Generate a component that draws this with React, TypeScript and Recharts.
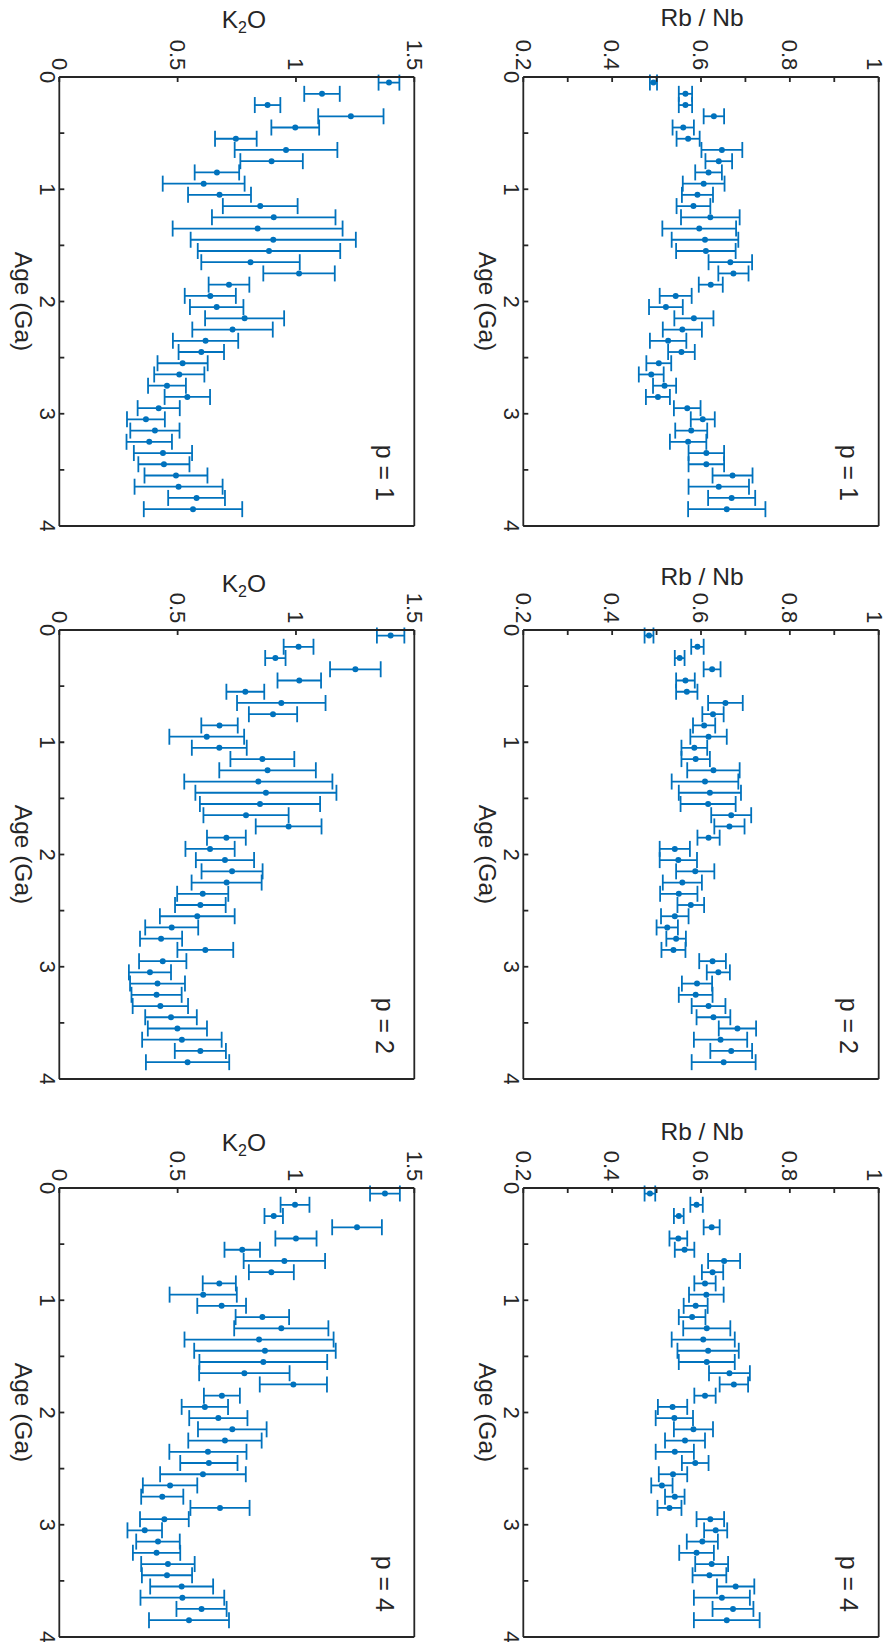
import React from 'react';
import { ScatterChart, Scatter, XAxis, YAxis, ErrorBar } from 'recharts';

// ---- data (age bins in Ga) ----
const ages = [0.05, 0.15, 0.25, 0.35, 0.45, 0.55, 0.65, 0.75, 0.85, 0.95, 1.05, 1.15, 1.25, 1.35, 1.45, 1.55, 1.65, 1.75, 1.85, 1.95, 2.05, 2.15, 2.25, 2.35, 2.45, 2.55, 2.65, 2.75, 2.85, 2.95, 3.05, 3.15, 3.25, 3.35, 3.45, 3.55, 3.65, 3.75, 3.85];

const rbnbP1 = [0.493, 0.565, 0.565, 0.629, 0.560, 0.571, 0.647, 0.640, 0.617, 0.606, 0.592, 0.583, 0.621, 0.596, 0.609, 0.611, 0.666, 0.673, 0.622, 0.543, 0.521, 0.584, 0.558, 0.526, 0.556, 0.505, 0.488, 0.518, 0.503, 0.569, 0.604, 0.578, 0.571, 0.612, 0.612, 0.671, 0.640, 0.669, 0.658];
const rbnbP1Err = [0.008, 0.015, 0.015, 0.023, 0.024, 0.026, 0.046, 0.030, 0.030, 0.047, 0.035, 0.038, 0.066, 0.083, 0.075, 0.067, 0.049, 0.034, 0.027, 0.036, 0.038, 0.044, 0.044, 0.041, 0.030, 0.028, 0.028, 0.026, 0.027, 0.030, 0.027, 0.036, 0.041, 0.040, 0.040, 0.045, 0.068, 0.053, 0.087];

const k2oP1 = [1.393, 1.110, 0.880, 1.232, 0.997, 0.746, 0.958, 0.897, 0.666, 0.610, 0.677, 0.849, 0.906, 0.838, 0.904, 0.886, 0.808, 1.013, 0.717, 0.638, 0.665, 0.783, 0.732, 0.618, 0.600, 0.521, 0.507, 0.455, 0.541, 0.420, 0.366, 0.404, 0.380, 0.438, 0.442, 0.493, 0.504, 0.580, 0.565];
const k2oP1Err = [0.044, 0.075, 0.054, 0.138, 0.101, 0.088, 0.217, 0.132, 0.094, 0.173, 0.133, 0.158, 0.261, 0.359, 0.349, 0.301, 0.208, 0.151, 0.086, 0.108, 0.113, 0.167, 0.170, 0.138, 0.096, 0.106, 0.106, 0.080, 0.096, 0.089, 0.080, 0.104, 0.096, 0.123, 0.108, 0.133, 0.186, 0.120, 0.208];

const rbnbP2 = [0.483, 0.592, 0.552, 0.625, 0.565, 0.568, 0.655, 0.627, 0.607, 0.617, 0.585, 0.588, 0.628, 0.609, 0.620, 0.616, 0.668, 0.664, 0.617, 0.541, 0.549, 0.587, 0.558, 0.550, 0.577, 0.541, 0.524, 0.544, 0.538, 0.626, 0.639, 0.591, 0.588, 0.617, 0.628, 0.682, 0.644, 0.668, 0.651];
const rbnbP2Err = [0.010, 0.014, 0.011, 0.019, 0.021, 0.024, 0.039, 0.024, 0.025, 0.041, 0.029, 0.032, 0.059, 0.075, 0.070, 0.062, 0.045, 0.034, 0.025, 0.034, 0.042, 0.043, 0.044, 0.042, 0.030, 0.031, 0.024, 0.022, 0.027, 0.030, 0.026, 0.034, 0.038, 0.038, 0.038, 0.042, 0.060, 0.047, 0.072];

const k2oP2 = [1.400, 1.011, 0.913, 1.251, 1.014, 0.786, 0.938, 0.903, 0.677, 0.623, 0.676, 0.858, 0.880, 0.841, 0.873, 0.848, 0.789, 0.969, 0.706, 0.637, 0.700, 0.730, 0.707, 0.606, 0.596, 0.583, 0.475, 0.430, 0.617, 0.437, 0.383, 0.415, 0.411, 0.427, 0.472, 0.499, 0.518, 0.596, 0.542];
const k2oP2Err = [0.058, 0.063, 0.043, 0.107, 0.092, 0.080, 0.187, 0.102, 0.077, 0.158, 0.116, 0.135, 0.204, 0.313, 0.298, 0.254, 0.180, 0.139, 0.082, 0.104, 0.123, 0.129, 0.148, 0.108, 0.107, 0.158, 0.112, 0.089, 0.118, 0.100, 0.089, 0.116, 0.106, 0.117, 0.109, 0.125, 0.168, 0.108, 0.176];

const rbnbP4 = [0.485, 0.590, 0.550, 0.624, 0.549, 0.563, 0.652, 0.626, 0.609, 0.612, 0.588, 0.580, 0.613, 0.605, 0.616, 0.613, 0.664, 0.674, 0.609, 0.536, 0.540, 0.583, 0.564, 0.541, 0.587, 0.537, 0.512, 0.541, 0.529, 0.621, 0.633, 0.603, 0.590, 0.624, 0.619, 0.678, 0.647, 0.672, 0.658];
const rbnbP4Err = [0.012, 0.014, 0.011, 0.018, 0.020, 0.022, 0.036, 0.024, 0.024, 0.039, 0.027, 0.030, 0.053, 0.071, 0.069, 0.063, 0.046, 0.032, 0.024, 0.033, 0.042, 0.044, 0.045, 0.043, 0.030, 0.032, 0.024, 0.022, 0.027, 0.031, 0.026, 0.035, 0.039, 0.037, 0.038, 0.042, 0.063, 0.046, 0.074];

const k2oP4 = [1.376, 0.996, 0.906, 1.258, 1.000, 0.773, 0.951, 0.896, 0.676, 0.608, 0.686, 0.858, 0.938, 0.844, 0.869, 0.862, 0.782, 0.989, 0.687, 0.615, 0.672, 0.731, 0.700, 0.628, 0.632, 0.607, 0.468, 0.435, 0.679, 0.444, 0.361, 0.417, 0.411, 0.459, 0.455, 0.517, 0.520, 0.601, 0.548];
const k2oP4Err = [0.063, 0.061, 0.039, 0.105, 0.087, 0.075, 0.172, 0.095, 0.070, 0.142, 0.103, 0.113, 0.199, 0.315, 0.299, 0.270, 0.191, 0.142, 0.076, 0.098, 0.123, 0.145, 0.155, 0.163, 0.121, 0.181, 0.115, 0.089, 0.125, 0.103, 0.073, 0.092, 0.100, 0.113, 0.106, 0.133, 0.177, 0.106, 0.169];

const pValues = [1, 2, 4];
const ageTicks = [0, 0.5, 1, 1.5, 2, 2.5, 3, 3.5, 4];
const rbnbTicks = [0.2, 0.3, 0.4, 0.5, 0.6, 0.7, 0.8, 0.9, 1];
const k2oTicks = [0, 0.5, 1, 1.5];

// ---- styling / layout ----
const BLUE = '#0072BD';
const INK = '#262626';
const FONT = '"Liberation Sans", Arial, Helvetica, sans-serif';
const TICK_FS = 22;
const LABEL_FS = 24.5;
const AXW = 1.8;

const CHART_W = 531;
const CHART_H = 443;
const PLOT_LEFT = 77;
const PLOT_W = 449;
const colPlotLeft = [76.7, 630, 1187.7];
const rbnbTitleOffset = [51, 45, 48];
const k2oTitleOffset = [49, 38, 37];

const build = (vals: number[], errs: number[]) =>
  ages.map((a, i) => ({ age: a, v: vals[i], err: errs[i] }));

const rbnbSets = [build(rbnbP1, rbnbP1Err), build(rbnbP2, rbnbP2Err), build(rbnbP4, rbnbP4Err)];
const k2oSets = [build(k2oP1, k2oP1Err), build(k2oP2, k2oP2Err), build(k2oP4, k2oP4Err)];

const ageFmt = (v: number) => (Number.isInteger(v) ? String(v) : '');
const rbnbFmt = (v: number) => (Math.round(v * 10) % 2 === 0 ? String(Math.round(v * 10) / 10) : '');
const k2oFmt = (v: number) => String(v);

const Dot = (props: any) => {
  if (props.cx == null || props.cy == null) return null;
  return <circle cx={props.cx} cy={props.cy} r={3} fill={BLUE} stroke="none" />;
};

const makeYTick = (fmt: (v: number) => string, topValue: number) => (props: any) => {
  const { x, y, payload } = props;
  const label = fmt(payload.value);
  if (!label) return <g />;
  const shift = payload.value === topValue ? 4 : 0;
  return (
    <text
      x={x}
      y={y + shift}
      dy="0.355em"
      textAnchor="end"
      fontSize={TICK_FS}
      fill={INK}
      fontFamily={FONT}
    >
      {label}
    </text>
  );
};

type PanelProps = {
  kind: 'rbnb' | 'k2o';
  col: number;
  data: { age: number; v: number; err: number }[];
  top: number;
  plotTop: number;
  plotH: number;
};

function Panel({ kind, col, data, top, plotTop, plotH }: PanelProps) {
  const left = colPlotLeft[col] - PLOT_LEFT;
  const margin = {
    top: plotTop - 1,
    left: PLOT_LEFT - 60,
    right: CHART_W - PLOT_LEFT - PLOT_W - 1,
    bottom: CHART_H - plotTop - plotH - 30,
  };
  const domain = kind === 'rbnb' ? [0.2, 1] : [0, 1.5];
  const yTicks = kind === 'rbnb' ? rbnbTicks : k2oTicks;
  const yFmt = kind === 'rbnb' ? rbnbFmt : k2oFmt;
  const yTick = makeYTick(yFmt, kind === 'rbnb' ? 1 : -99);
  const plotBottom = plotTop + plotH;
  const p = pValues[col];

  const titleX = PLOT_LEFT - (kind === 'rbnb' ? rbnbTitleOffset[col] : k2oTitleOffset[col]);
  const titleY = plotTop + plotH / 2 + (kind === 'rbnb' ? -1 : -7);

  const yTitle = () => (
    <text
      x={titleX}
      y={titleY}
      transform={`rotate(-90, ${titleX}, ${titleY})`}
      textAnchor="middle"
      fontSize={LABEL_FS}
      fill={INK}
      fontFamily={FONT}
    >
      {kind === 'rbnb' ? (
        'Rb / Nb'
      ) : (
        <>
          K<tspan dy={5} fontSize={16}>2</tspan>
          <tspan dy={-5}>O</tspan>
        </>
      )}
    </text>
  );

  const xTitle = () => (
    <g>
      <text
        x={PLOT_LEFT + PLOT_W / 2}
        y={plotBottom + 44}
        textAnchor="middle"
        fontSize={LABEL_FS}
        fill={INK}
        fontFamily={FONT}
      >
        Age (Ga)
      </text>
      <text
        x={PLOT_LEFT + PLOT_W - 25}
        y={plotTop + 38.5}
        textAnchor="end"
        fontSize={25}
        fill={INK}
        fontFamily={FONT}
      >
        {`p = ${p}`}
      </text>
    </g>
  );

  const lineStyle = { stroke: INK, strokeWidth: AXW };

  return (
    <div style={{ position: 'absolute', left, top, width: CHART_W, height: CHART_H }}>
      <ScatterChart width={CHART_W} height={CHART_H} margin={margin}>
        <XAxis
          type="number"
          dataKey="age"
          domain={[0, 4]}
          ticks={ageTicks}
          interval={0}
          allowDataOverflow
          tickFormatter={ageFmt}
          tickSize={-5}
          tickMargin={9}
          height={30}
          axisLine={lineStyle}
          tickLine={lineStyle}
          tick={{ fontSize: TICK_FS, fill: INK, fontFamily: FONT }}
          label={xTitle}
        />
        <XAxis
          xAxisId="t"
          orientation="top"
          type="number"
          domain={[0, 4]}
          ticks={ageTicks}
          interval={0}
          allowDataOverflow
          tick={false}
          tickSize={-5}
          height={1}
          axisLine={lineStyle}
          tickLine={lineStyle}
        />
        <YAxis
          type="number"
          dataKey="v"
          domain={domain}
          ticks={yTicks}
          interval={0}
          allowDataOverflow
          tickSize={-5}
          tickMargin={11.7}
          width={60}
          axisLine={lineStyle}
          tickLine={lineStyle}
          tick={yTick}
          label={yTitle}
        />
        <YAxis
          yAxisId="r"
          orientation="right"
          type="number"
          domain={domain}
          ticks={yTicks}
          interval={0}
          allowDataOverflow
          tick={false}
          tickSize={-5}
          width={1}
          axisLine={lineStyle}
          tickLine={lineStyle}
        />
        <Scatter data={data} shape={Dot} isAnimationActive={false}>
          <ErrorBar
            dataKey="err"
            direction="y"
            width={8}
            stroke={BLUE}
            strokeWidth={1.8}
            isAnimationActive={false}
          />
        </Scatter>
      </ScatterChart>
    </div>
  );
}

export default function App() {
  return (
    <div
      style={{
        position: 'absolute',
        left: 0,
        top: 0,
        width: 886,
        height: 1644,
        overflow: 'hidden',
        background: '#ffffff',
        fontFamily: FONT,
      }}
    >
      <div
        style={{
          position: 'absolute',
          left: 0,
          top: 0,
          width: 1644,
          height: 886,
          transformOrigin: '0 0',
          transform: 'translate(886px, 0px) rotate(90deg)',
        }}
      >
        {[0, 1, 2].map((c) => (
          <Panel key={`r${c}`} kind="rbnb" col={c} data={rbnbSets[c]} top={0} plotTop={7.3} plotH={355.4} />
        ))}
        {[0, 1, 2].map((c) => (
          <Panel key={`k${c}`} kind="k2o" col={c} data={k2oSets[c]} top={443} plotTop={28.7} plotH={355} />
        ))}
      </div>
    </div>
  );
}
